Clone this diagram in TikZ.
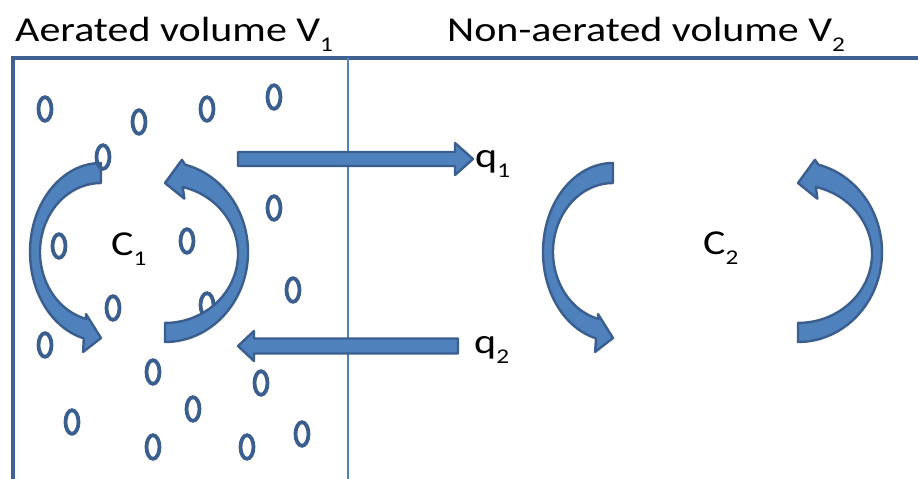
\documentclass[tikz,border=0pt]{standalone}
\usepackage{fontspec}
\setmainfont{Carlito}
\usetikzlibrary{calc}
\definecolor{frameblue}{HTML}{3E6191}
\definecolor{fillblue}{HTML}{4F81BD}
\definecolor{lineblue}{HTML}{4F81BD}
\definecolor{edgeblue}{HTML}{3A5E8D}
\newcommand\mysub[1]{\raisebox{-10pt}{\fontsize{21}{21}\selectfont #1}}
\newcommand\wide[1]{\scalebox{1.2}[1]{#1}}
\begin{document}
\begin{tikzpicture}[x=1pt,y=1pt,
  bubble/.style={draw=edgeblue, line width=3.8pt},
  arrowshape/.style={fill=fillblue, draw=edgeblue, line width=2.4pt, line join=round},
  label/.style={font=\fontsize{35}{40}\selectfont, inner sep=0pt, anchor=base west, text=black},
  frame/.style={draw=frameblue, line width=4pt}]
\useasboundingbox (0,0) rectangle (918,-479);

% titles
\node[label] (t1) at (15,-41) {\wide{Aerated volume V\mysub{1}}};
\node[label] (t2) at (447,-41) {\wide{Non-aerated volume V\mysub{2}}};

% frame
\coordinate (fl) at (12.5,-479);
\coordinate (ftl) at (12.5,-58);
\coordinate (ftr) at (918,-58);
\draw[frame, line cap=butt] (fl) -- (ftl) -- (ftr);
\coordinate (dt) at (348,-58);
\coordinate (db) at (348,-479);
\draw[draw=lineblue, line width=1.3pt] (dt) -- (db);

% bubbles under the arrows
\foreach \bx/\by in {45/109,139/122,207/109,274/97,274/208,59/246,187/241,293/290,113/308,207/305,45/345,153/372,261/383,193/409,72/422,153/447,247/447,302/434}
  \draw[bubble] (\bx,-\by) ellipse[x radius=6.5, y radius=11.8];

% C1 left arrow
\coordinate (cA) at (101,-252);
\path[arrowshape] ($(cA)+(90:71 and 89)$) arc[start angle=90,end angle=256,x radius=71,y radius=89]
  -- ($(cA)+(256:74 and 103)$) -- ($(cA)+(270:0 and 86)$) -- ($(cA)+(256:62 and 64)$)
  -- ($(cA)+(256:61 and 69)$) arc[start angle=256,end angle=90,x radius=61,y radius=69] -- cycle;
% C1 right arrow
\coordinate (cB) at (165,-252);
\path[arrowshape] ($(cB)+(-90:83 and 90)$) arc[start angle=-90,end angle=76,x radius=83,y radius=90]
  -- ($(cB)+(76:70 and 95)$) -- ($(cB)+(90:0 and 69)$) -- ($(cB)+(76:80 and 55)$)
  -- ($(cB)+(76:73 and 67)$) arc[start angle=76,end angle=-90,x radius=73,y radius=69] -- cycle;
% C2 left arrow
\coordinate (cC) at (613,-252);
\path[arrowshape] ($(cC)+(90:70 and 89)$) arc[start angle=90,end angle=256,x radius=70,y radius=89]
  -- ($(cC)+(256:74 and 103)$) -- ($(cC)+(270:0 and 86)$) -- ($(cC)+(256:62 and 64)$)
  -- ($(cC)+(256:60 and 69)$) arc[start angle=256,end angle=90,x radius=60,y radius=69] -- cycle;
% C2 right arrow
\coordinate (cD) at (798,-252);
\path[arrowshape] ($(cD)+(-90:84 and 90)$) arc[start angle=-90,end angle=76,x radius=84,y radius=90]
  -- ($(cD)+(76:70 and 95)$) -- ($(cD)+(90:0 and 69)$) -- ($(cD)+(76:80 and 55)$)
  -- ($(cD)+(76:74 and 67)$) arc[start angle=76,end angle=-90,x radius=74,y radius=69] -- cycle;

% bubble above the arrow
\draw[bubble] (103,-157) ellipse[x radius=6.5, y radius=11.8];

% straight arrows
\coordinate (q1s) at (238,-159);
\coordinate (q1e) at (473,-159);
\path[arrowshape] ($(q1s)+(0,7)$) -- ($(q1e)+(-18,7)$) -- ($(q1e)+(-18,16)$) -- (q1e)
  -- ($(q1e)+(-18,-16)$) -- ($(q1e)+(-18,-7)$) -- ($(q1s)+(0,-7)$) -- cycle;
\coordinate (q2s) at (458,-346);
\coordinate (q2e) at (238,-346);
\path[arrowshape] ($(q2s)+(0,7.5)$) -- ($(q2e)+(16,7.5)$) -- ($(q2e)+(16,15)$) -- (q2e)
  -- ($(q2e)+(16,-15)$) -- ($(q2e)+(16,-7.5)$) -- ($(q2s)+(0,-7.5)$) -- cycle;

% labels
\node[label] (q1) at (475,-167) {\wide{q\mysub{1}}};
\node[label] (q2) at (474,-353) {\wide{q\mysub{2}}};
\node[label] (C1) at (111,-255) {\wide{C\mysub{1}}};
\node[label] (C2) at (703,-254) {\wide{C\mysub{2}}};
\end{tikzpicture}
\end{document}
